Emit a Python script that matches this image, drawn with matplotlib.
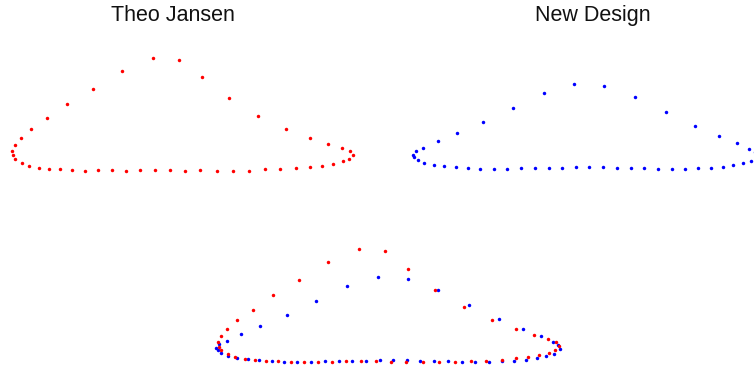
import matplotlib
matplotlib.use("Agg")
import matplotlib.pyplot as plt

# Foot trajectories (data units)
jansen_x = [0.9, 2.58, 4.4, 6.75, 9.33, 12.0, 15.15, 18.25, 21.58, 25.15, 28.5, 32.15,
            35.75, 39.5, 43.4, 47.15, 51.33, 55.4, 59.33, 63.25, 67.08, 71.15, 74.5,
            77.58, 80.4, 82.9, 84.25, 85.4, 84.58, 82.58, 79.15, 74.5, 68.5, 61.58,
            54.4, 47.5, 41.83, 35.25, 27.65, 20.4, 13.75, 8.9, 4.83, 2.33, 0.75, 0.0, 0.25]
jansen_y = [2.93, 2.0, 1.18, 0.75, 0.5, 0.35, 0.25, 0.0, 0.1, 0.1, 0.0, 0.25,
            0.25, 0.25, 0.0, 0.1, 0.0, 0.0, 0.0, 0.35, 0.35, 0.6, 0.93,
            1.18, 1.75, 2.35, 2.93, 3.93, 4.93, 5.75, 6.75, 8.18, 10.43, 13.68,
            18.1, 23.35, 27.68, 28.25, 25.0, 20.5, 16.68, 13.1, 10.5, 8.18, 6.5, 5.0, 3.85]

new_x = [0.43, -0.33, 0.0, 0.93, 2.5, 4.93, 7.5, 10.43, 13.5, 16.5, 19.93, 23.33,
         26.75, 30.25, 33.68, 37.08, 40.5, 43.83, 47.33, 50.68, 54.18, 57.58, 61.08,
         64.43, 67.75, 71.08, 74.18, 77.18, 79.83, 82.18, 84.18, 85.5, 85.13, 83.75,
         80.75, 76.25, 70.25, 62.93, 55.18, 47.58, 40.0, 32.43, 24.68, 17.25, 10.68,
         5.93, 2.33]
new_y = [4.43, 3.43, 2.93, 2.18, 1.43, 1.0, 0.68, 0.5, 0.25, 0.08, 0.08, 0.08,
         0.33, 0.25, 0.25, 0.25, 0.5, 0.58, 0.58, 0.25, 0.25, 0.25, 0.08,
         0.08, 0.08, 0.33, 0.33, 0.58, 1.08, 1.5, 2.08, 3.13, 4.13, 5.0,
         6.5, 8.18, 10.83, 14.18, 18.0, 20.83, 21.33, 18.93, 15.33, 11.75, 8.93,
         7.0, 5.33]

titles = ["Theo Jansen", "New Design"]

W, H = 754, 368
fig = plt.figure(figsize=(W / 100, H / 100), dpi=100)
fig.patch.set_facecolor("white")

XLIM = (-2, 88)
YLIM = (-2, 30)
PX = 4.0  # pixels per data unit


def make_axes(left_px, bottom_px):
    w = (XLIM[1] - XLIM[0]) * PX
    h = (YLIM[1] - YLIM[0]) * PX
    ax = fig.add_axes([left_px / W, (H - bottom_px) / H, w / W, h / H])
    ax.set_xlim(*XLIM)
    ax.set_ylim(*YLIM)
    ax.axis("off")
    return ax


ms = 2.5
ax1 = make_axes(3.7, 178.7)
ax1.plot(jansen_x, jansen_y, "o", color="red", ms=ms, mew=0, clip_on=False)

ax2 = make_axes(406, 177)
ax2.plot(new_x, new_y, "o", color="blue", ms=ms, mew=0, clip_on=False)

ax3 = make_axes(209.7, 370)
ax3.plot(new_x, new_y, "o", color="blue", ms=ms, mew=0, clip_on=False)
ax3.plot(jansen_x, jansen_y, "o", color="red", ms=ms, mew=0, clip_on=False)

fig.text(172.9 / W, 1 - 21 / H, titles[0], ha="center", va="baseline",
         fontsize=15.5, family="Liberation Sans", color="#111111")
fig.text(592.8 / W, 1 - 21 / H, titles[1], ha="center", va="baseline",
         fontsize=15.5, family="Liberation Sans", color="#111111")

fig.savefig("out.png", dpi=100, facecolor="white")
